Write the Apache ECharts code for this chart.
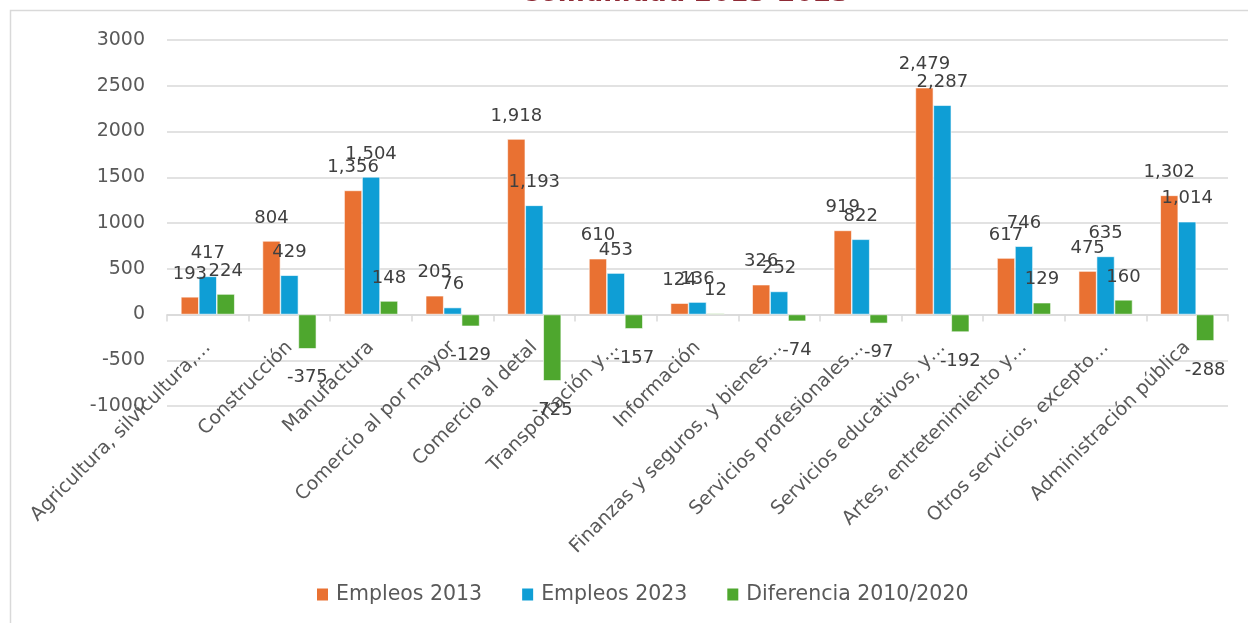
<!DOCTYPE html>
<html>
<head>
<meta charset="utf-8">
<script src="https://cdn.jsdelivr.net/npm/echarts@6/dist/echarts.min.js"></script>
<style>html,body{margin:0;padding:0;background:#fff}#c{width:1248px;height:623px}</style>
</head>
<body>
<div id="c"></div>
<script>
const categories = ["Agricultura, silvicultura,…","Construcción","Manufactura","Comercio al por mayor","Comercio al detal","Transportación y…","Información","Finanzas y seguros, y bienes…","Servicios profesionales…","Servicios educativos, y…","Artes, entretenimiento y…","Otros servicios, excepto…","Administración pública"];
const empleos2013 = [193, 804, 1356, 205, 1918, 610, 124, 326, 919, 2479, 617, 475, 1302];
const empleos2023 = [417, 429, 1504, 76, 1193, 453, 136, 252, 822, 2287, 746, 635, 1014];
const diferencia = [224, -375, 148, -129, -725, -157, 12, -74, -97, -192, 129, 160, -288];
const seriesNames = ["Empleos 2013", "Empleos 2023", "Diferencia 2010/2020"];
const yTicks = {min: -1000, max: 3000, interval: 500};

const FONT = "DejaVu Sans";
const TXT = "#595959";
const colors = ["#E97132", "#0F9ED5", "#4EA72E"];

const GRID_TOP = 40, GRID_BOTTOM = 217, H = 623;
const plotH = H - GRID_TOP - GRID_BOTTOM;
const zeroOffset = plotH * (0 - yTicks.min) / (yTicks.max - yTicks.min);

function fmt(v){ return v.toLocaleString('en-US'); }
function mkData(arr){
  return arr.map(v => v < 0 ? {value: v, label: {position: 'bottom', distance: 20}} : v);
}
function mkSeries(name, arr, color){
  return {
    name: name, type: 'bar', data: mkData(arr),
    barGap: '0%', barCategoryGap: '34%',
    itemStyle: {color: color, borderColor: '#ffffff', borderWidth: 0.6},
    label: {show: true, position: 'top', distance: 14, fontFamily: FONT, fontSize: 18, color: '#404040',
      formatter: p => fmt(p.value)},
    emphasis: {disabled: true}
  };
}

const chart = echarts.init(document.getElementById('c'), null, {renderer: 'canvas'});
chart.setOption({
  animation: false,
  backgroundColor: '#ffffff',
  title: {text: 'Comunidad 2013-2023', left: 517, top: -24,
    textStyle: {fontFamily: FONT, fontSize: 26, fontWeight: 'bold', fontStyle: 'italic', color: '#8E2A35'}},
  graphic: [{type: 'rect', silent: true, z: -1,
    shape: {x: 10.5, y: 10.5, width: 1300, height: 700},
    style: {fill: 'none', stroke: '#d9d9d9', lineWidth: 1.5}}],
  grid: {left: 167, right: 20, top: GRID_TOP, bottom: GRID_BOTTOM, containLabel: false},
  legend: {bottom: 13, left: 310, itemWidth: 13, itemHeight: 14, itemGap: 38,
    icon: 'rect', textStyle: {fontFamily: FONT, fontSize: 20.5, color: TXT, padding: [0, 0, 0, 2]},
    data: seriesNames},
  xAxis: {type: 'category', data: categories, offset: -zeroOffset,
    axisLine: {onZero: false, lineStyle: {color: '#d9d9d9', width: 1.5}},
    axisTick: {show: true, length: 7, lineStyle: {color: '#d9d9d9', width: 1.5}},
    axisLabel: {rotate: 45, interval: 0, fontFamily: FONT, fontSize: 19, color: TXT, margin: 30}},
  yAxis: {type: 'value', min: yTicks.min, max: yTicks.max, interval: yTicks.interval,
    axisLine: {show: false}, axisTick: {show: false},
    splitLine: {lineStyle: {color: '#d9d9d9', width: 1.5}},
    axisLabel: {fontFamily: FONT, fontSize: 19, color: TXT, margin: 22, formatter: v => String(v)}},
  series: [
    mkSeries(seriesNames[0], empleos2013, colors[0]),
    mkSeries(seriesNames[1], empleos2023, colors[1]),
    mkSeries(seriesNames[2], diferencia, colors[2])
  ]
});
</script>
</body>
</html>
